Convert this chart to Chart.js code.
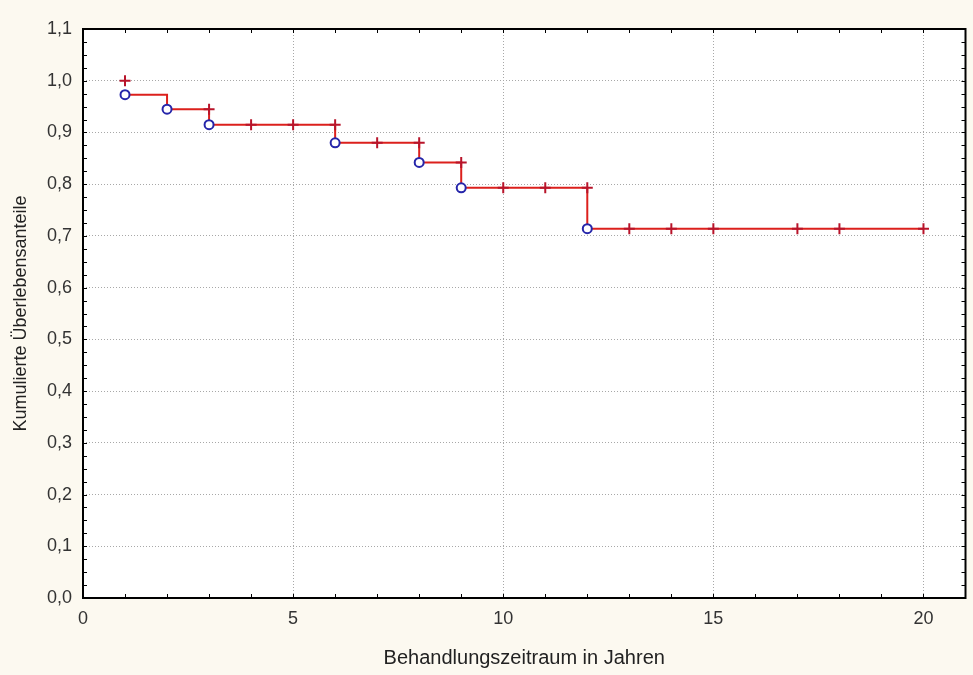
<!DOCTYPE html>
<html>
<head>
<meta charset="utf-8">
<script src="https://cdn.jsdelivr.net/npm/chart.js@4/dist/chart.umd.min.js"></script>
<style>
  html, body { margin: 0; padding: 0; background: #fcf9f0; }
  #wrap { width: 973px; height: 675px; }
</style>
</head>
<body>
<div id="wrap"><canvas id="chart"></canvas></div>
<script>
// Kaplan-Meier: Ereignisse (Kreise), zensierte Faelle (+), Stufenlinie
var eventYears = [1, 2, 3, 6, 8, 9, 12];
var eventSurvival = [0.973, 0.945, 0.915, 0.880, 0.842, 0.793, 0.714];

var censorYears = [1, 3, 4, 5, 6, 7, 8, 9, 10, 11, 12, 13, 14, 15, 17, 18, 20];
var censorSurvival = [1.0, 0.945, 0.915, 0.915, 0.915, 0.880, 0.880, 0.842, 0.793, 0.793, 0.793,
                      0.714, 0.714, 0.714, 0.714, 0.714, 0.714];

var stepYears = [1, 2, 3, 6, 8, 9, 12, 20];
var stepSurvival = [0.973, 0.945, 0.915, 0.880, 0.842, 0.793, 0.714, 0.714];

var xTicks = [0, 5, 10, 15, 20];
var yTicks = [0, 0.1, 0.2, 0.3, 0.4, 0.5, 0.6, 0.7, 0.8, 0.9, 1.0, 1.1];

function pts(xs, ys){
    var data = [];
    for (var i = 0; i < xs.length; i++) data.push({x: xs[i], y: ys[i]});
    return data;
}

// white plot area, black frame and small inward ticks
var framePlugin = {
    id: 'frame',
    beforeDraw: function(chart){
        var a = chart.chartArea, ctx = chart.ctx;
        ctx.save();
        ctx.fillStyle = '#ffffff';
        ctx.fillRect(a.left, a.top, a.right - a.left, a.bottom - a.top);
        ctx.restore();
    },
    afterDatasetsDraw: function(chart){
        var a = chart.chartArea, ctx = chart.ctx;
        var xs = chart.scales.x, ys = chart.scales.y;
        ctx.save();
        ctx.strokeStyle = '#000';
        ctx.lineWidth = 1;
        ctx.beginPath();
        for (var v = 1; v < 21; v++){
            var px = Math.round(xs.getPixelForValue(v)) + 0.5;
            ctx.moveTo(px, a.bottom); ctx.lineTo(px, a.bottom - 4);
            ctx.moveTo(px, a.top); ctx.lineTo(px, a.top + 4);
        }
        for (var k = 1; k < 44; k++){
            var py = Math.round(ys.getPixelForValue(k * 0.025)) + 0.5;
            ctx.moveTo(a.left, py); ctx.lineTo(a.left + 4, py);
            ctx.moveTo(a.right, py); ctx.lineTo(a.right - 4, py);
        }
        ctx.stroke();
        ctx.lineWidth = 2;
        ctx.strokeRect(a.left, a.top, a.right - a.left, a.bottom - a.top);
        ctx.restore();
    }
};

var chart = new Chart(document.getElementById('chart').getContext('2d'), {
    type: 'line',
    data: {
        datasets: [{
            label: 'Ereignis',
            data: pts(eventYears, eventSurvival),
            showLine: false,
            pointStyle: 'circle',
            pointRadius: 4.5,
            pointBorderWidth: 2,
            pointBorderColor: '#2626aa',
            pointBackgroundColor: '#ffffff'
        }, {
            label: 'Zensiert',
            data: pts(censorYears, censorSurvival),
            showLine: false,
            pointStyle: 'cross',
            pointRadius: 5.5,
            pointBorderWidth: 2,
            pointBorderColor: '#b8142a'
        }, {
            label: 'Kumulierte Überlebensanteile',
            data: pts(stepYears, stepSurvival),
            stepped: true,
            borderColor: '#dc201c',
            borderWidth: 2,
            pointRadius: 0,
            fill: false
        }]
    },
    options: {
        responsive: true,
        maintainAspectRatio: false,
        animation: false,
        layout: { padding: { top: 29, right: 7, left: 0, bottom: 0 } },
        plugins: { legend: { display: false }, tooltip: { enabled: false } },
        scales: {
            x: {
                type: 'linear',
                min: 0, max: 21,
                afterBuildTicks: function(s){ s.ticks = xTicks.map(function(v){ return {value: v}; }); },
                afterFit: function(s){ s.height = 77; },
                ticks: {
                    padding: 10,
                    color: '#333',
                    font: { family: 'Liberation Sans', size: 18 },
                    maxRotation: 0,
                    callback: function(v){ return String(v); }
                },
                grid: { color: '#a8a8a8', drawTicks: false, lineWidth: 1 },
                border: { display: false, dash: [1, 2] },
                title: {
                    display: true,
                    text: 'Behandlungszeitraum in Jahren',
                    color: '#222',
                    font: { family: 'Liberation Sans', size: 20 },
                    padding: { top: 0, bottom: 5 }
                }
            },
            y: {
                type: 'linear',
                min: 0, max: 1.1,
                afterBuildTicks: function(s){ s.ticks = yTicks.map(function(v){ return {value: v}; }); },
                afterFit: function(s){ s.width = 83; },
                ticks: {
                    padding: 11,
                    color: '#333',
                    font: { family: 'Liberation Sans', size: 18 },
                    callback: function(v){ return Number(v).toFixed(1).replace('.', ','); }
                },
                grid: { color: '#a8a8a8', drawTicks: false, lineWidth: 1 },
                border: { display: false, dash: [1, 2] },
                title: {
                    display: true,
                    text: 'Kumulierte Überlebensanteile',
                    color: '#222',
                    font: { family: 'Liberation Sans', size: 18 },
                    padding: { top: 10, bottom: 0 }
                }
            }
        }
    },
    plugins: [framePlugin]
});
</script>
</body>
</html>
